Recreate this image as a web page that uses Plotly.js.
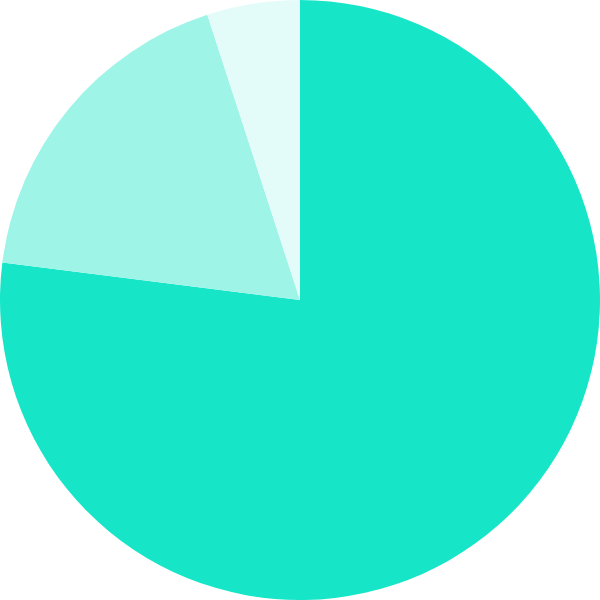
<!DOCTYPE html>
<html>
<head>
<meta charset="utf-8">
<script src="https://cdn.plot.ly/plotly-3.0.1.min.js"></script>
<style>
  html, body { margin: 0; padding: 0; background: #fff; }
  #chart { width: 600px; height: 600px; }
</style>
</head>
<body>
<div id="chart"></div>
<script>
"use strict"
// slices, clockwise from 12 o'clock
let slice_labels = ["A", "B", "C"];
let slice_values = [77, 18, 5];
let slice_colors = ["#16E5C8", "#9FF4E8", "#E3FCFA"];

let data = [{
    type: "pie",
    labels: slice_labels,
    values: slice_values,
    sort: false,
    direction: "clockwise",
    rotation: 0,
    textinfo: "none",
    hoverinfo: "label+percent",
    marker: { colors: slice_colors, line: { width: 0 } },
    domain: { x: [0, 1], y: [0, 1] }
}];

let layout = {
    width: 600,
    height: 600,
    margin: { l: 0, r: 0, t: 0, b: 0, pad: 0 },
    showlegend: false,
    paper_bgcolor: "#fff"
};

Plotly.newPlot("chart", data, layout, { displayModeBar: false });
</script>
</body>
</html>
